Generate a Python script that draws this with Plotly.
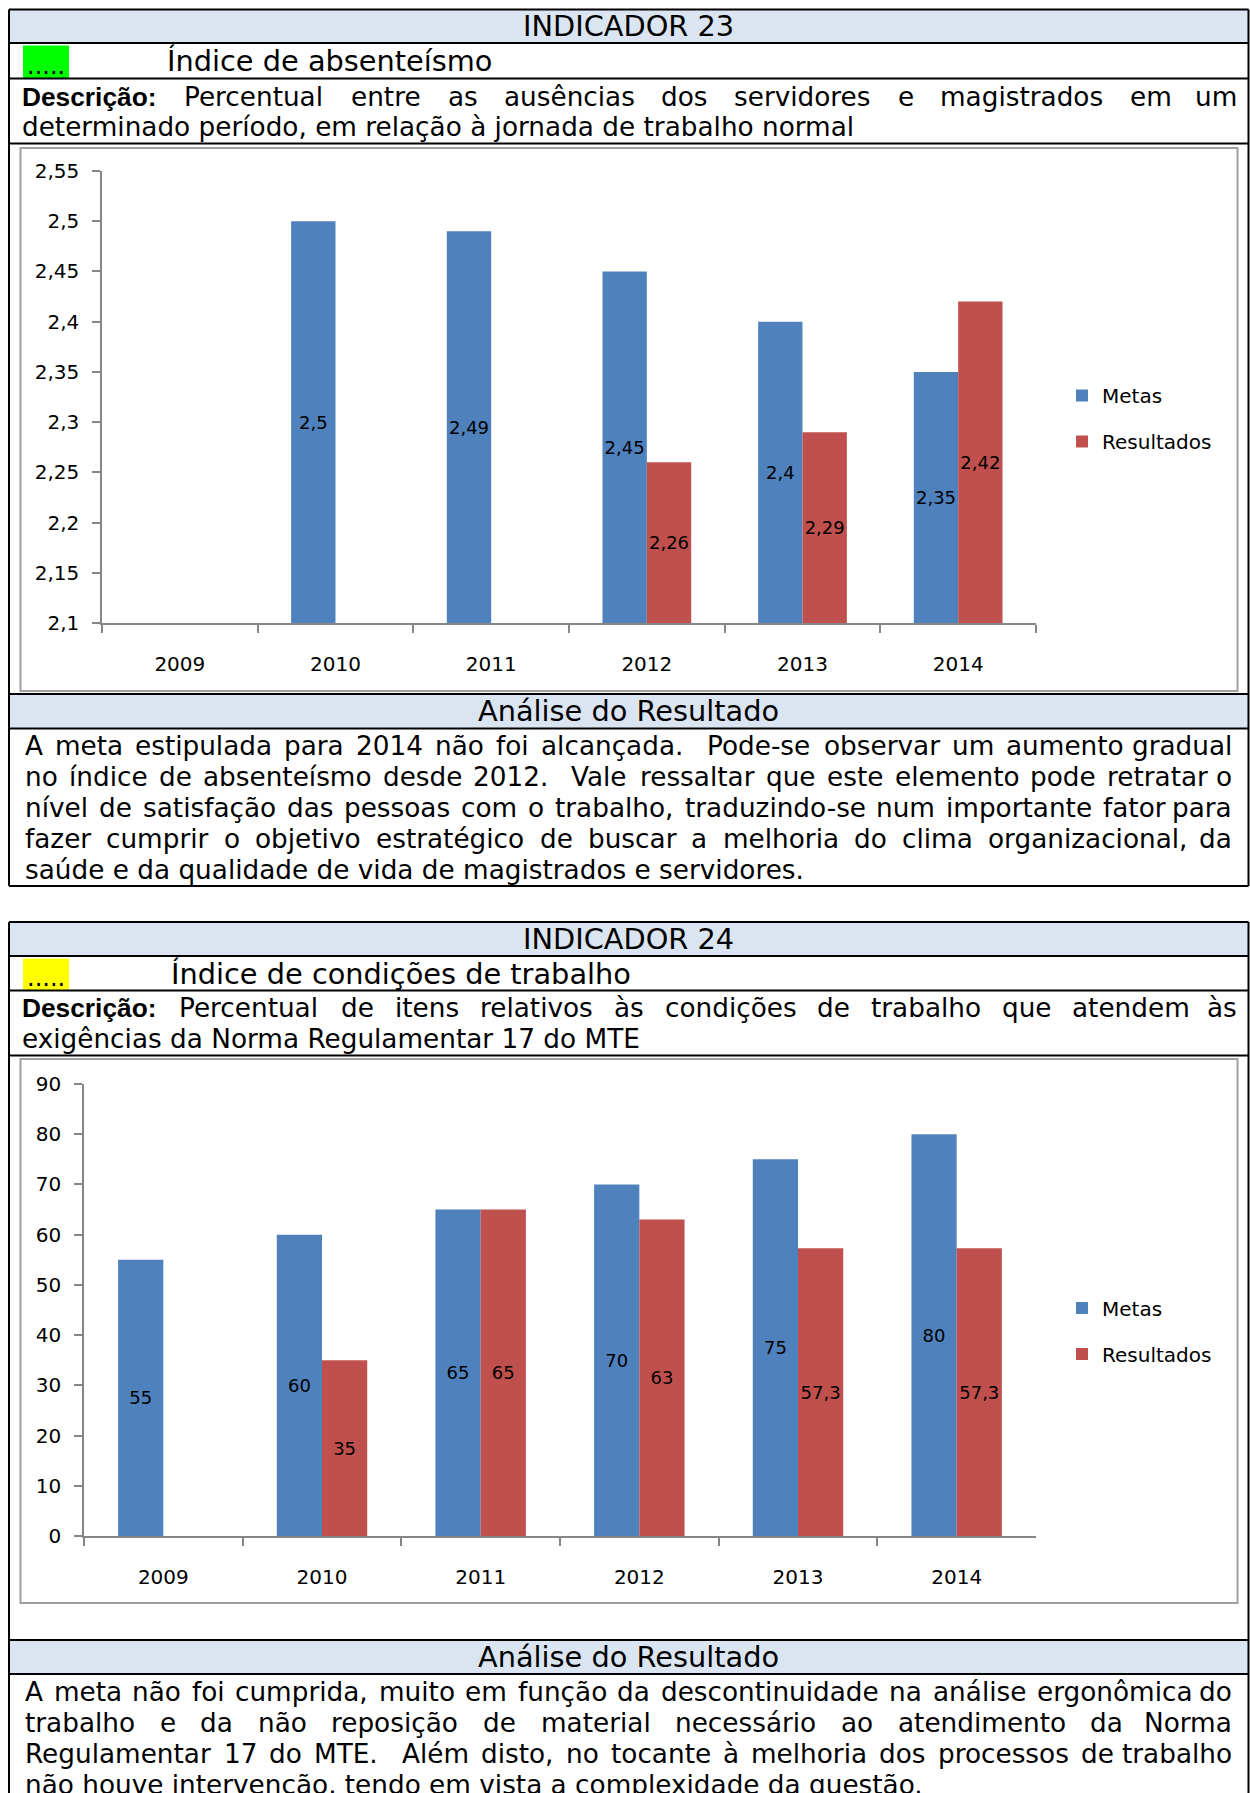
import unicodedata
import plotly.graph_objects as go

W, H = 1250, 1793

# ---------------- data ----------------
years = ["2009", "2010", "2011", "2012", "2013", "2014"]

abs_metas = [None, 2.5, 2.49, 2.45, 2.4, 2.35]
abs_result = [None, None, None, 2.26, 2.29, 2.42]
abs_base = 2.1
abs_tickvals = [2.1, 2.15, 2.2, 2.25, 2.3, 2.35, 2.4, 2.45, 2.5, 2.55]
abs_ticktext = ["2,1", "2,15", "2,2", "2,25", "2,3", "2,35", "2,4", "2,45", "2,5", "2,55"]

cond_metas = [55, 60, 65, 70, 75, 80]
cond_result = [None, 35, 65, 63, 57.3, 57.3]
cond_tickvals = [0, 10, 20, 30, 40, 50, 60, 70, 80, 90]
cond_ticktext = ["0", "10", "20", "30", "40", "50", "60", "70", "80", "90"]

series_names = ["Metas", "Resultados"]
series_colors = ["#4F81BD", "#C0504D"]

# ---------------- text ----------------
t1_header = "INDICADOR 23"
t1_title = "Índice de absenteísmo"
t1_desc = ["Percentual entre as ausências dos servidores e magistrados em um",
           "determinado período, em relação à jornada de trabalho normal"]
t1_anal = ["A meta estipulada para 2014 não foi alcançada.  Pode-se observar um aumento gradual",
           "no índice de absenteísmo desde 2012.  Vale ressaltar que este elemento pode retratar o",
           "nível de satisfação das pessoas com o trabalho, traduzindo-se num importante fator para",
           "fazer cumprir o objetivo estratégico de buscar a melhoria do clima organizacional, da",
           "saúde e da qualidade de vida de magistrados e servidores."]

t2_header = "INDICADOR 24"
t2_title = "Índice de condições de trabalho"
t2_desc = ["Percentual de itens relativos às condições de trabalho que atendem às",
           "exigências da Norma Regulamentar 17 do MTE"]
t2_anal = ["A meta não foi cumprida, muito em função da descontinuidade na análise ergonômica do",
           "trabalho e da não reposição de material necessário ao atendimento da Norma",
           "Regulamentar 17 do MTE.  Além disto, no tocante à melhoria dos processos de trabalho",
           "não houve intervenção, tendo em vista a complexidade da questão."]

FONT = "DejaVu Sans"
HEAD_FS = 28.8
BODY_FS = 26.3

# DejaVu Sans advance widths (units / 2048) for justification
DV = {' ': 651, ',': 651, '.': 651, ':': 690, '-': 739}
for d in "0123456789":
    DV[d] = 1303
DV.update(dict(zip("ABCDEFGHIJKLMNOPQRSTUVWXYZ",
                   [1401, 1405, 1430, 1577, 1294, 1178, 1587, 1540, 604, 604, 1343, 1141, 1767,
                    1532, 1612, 1235, 1612, 1423, 1300, 1251, 1499, 1401, 2025, 1403, 1251, 1403])))
DV.update(dict(zip("abcdefghijklmnopqrstuvwxyz",
                   [1255, 1300, 1126, 1300, 1260, 721, 1300, 1298, 569, 569, 1186, 569, 1995,
                    1298, 1253, 1300, 1300, 842, 1067, 803, 1298, 1212, 1675, 1212, 1212, 1075])))


def tw(s, fs):
    tot = 0
    for ch in s:
        base = unicodedata.normalize("NFD", ch)[0]
        tot += DV.get(base, 1250)
    return tot / 2048.0 * fs


def X(px):
    return px / W


def Y(py):
    return 1 - py / H


def fmt(v):
    if v is None:
        return ""
    return ("%g" % v).replace(".", ",")


fig = go.Figure()

# ---------------- chart 1 ----------------
for name, col, vals, grp in [(series_names[0], series_colors[0], abs_metas, "a1"),
                             (series_names[1], series_colors[1], abs_result, "a2")]:
    fig.add_trace(go.Bar(
        x=years, y=[None if v is None else v - abs_base for v in vals], base=abs_base,
        text=[fmt(v) for v in vals], textposition="inside", insidetextanchor="middle",
        textangle=0, constraintext="none", cliponaxis=False,
        textfont=dict(family=FONT, size=18, color="black"),
        marker=dict(color=col, line=dict(width=0)), name=name,
        legend="legend", legendgroup=grp, xaxis="x", yaxis="y", hoverinfo="skip"))

# ---------------- chart 2 ----------------
for name, col, vals, grp in [(series_names[0], series_colors[0], cond_metas, "c1"),
                             (series_names[1], series_colors[1], cond_result, "c2")]:
    fig.add_trace(go.Bar(
        x=years, y=vals,
        text=[fmt(v) for v in vals], textposition="inside", insidetextanchor="middle",
        textangle=0, constraintext="none", cliponaxis=False,
        textfont=dict(family=FONT, size=18, color="black"),
        marker=dict(color=col, line=dict(width=0)), name=name,
        legend="legend2", legendgroup=grp, xaxis="x2", yaxis="y2", hoverinfo="skip"))

AX = "#868686"
xcommon = dict(type="category", showline=True, linecolor=AX, linewidth=1.5, ticks="outside",
               tickson="boundaries", ticklen=8, tickcolor=AX, tickwidth=1.5,
               tickfont=dict(family=FONT, size=20, color="black"), showgrid=False,
               zeroline=False, ticklabelstandoff=22, fixedrange=True, automargin=False)
ycommon = dict(showline=True, linecolor=AX, linewidth=1.5, ticks="outside", ticklen=8,
               tickcolor=AX, tickwidth=1.5, tickfont=dict(family=FONT, size=20, color="black"),
               showgrid=False, zeroline=False, ticklabelstandoff=9, fixedrange=True,
               automargin=False)

legcommon = dict(xanchor="left", yanchor="middle", traceorder="grouped", tracegroupgap=17,
                 font=dict(family=FONT, size=20, color="black"), bgcolor="rgba(0,0,0,0)",
                 borderwidth=0)

fig.update_layout(
    width=W, height=H, margin=dict(l=0, r=0, t=0, b=0, pad=0, autoexpand=False),
    paper_bgcolor="white", plot_bgcolor="white", separators=", ",
    barmode="group", bargap=0.43, bargroupgap=0, showlegend=True,
    xaxis=dict(domain=[X(102), X(1036)], anchor="y", **xcommon),
    yaxis=dict(domain=[Y(623), Y(171)], anchor="x", range=[2.1, 2.55],
               tickvals=abs_tickvals, ticktext=abs_ticktext, **ycommon),
    xaxis2=dict(domain=[X(84), X(1036)], anchor="y2", **xcommon),
    yaxis2=dict(domain=[Y(1536), Y(1084)], anchor="x2", range=[0, 90],
                tickvals=cond_tickvals, ticktext=cond_ticktext, **ycommon),
    legend=dict(x=X(1062), y=Y(418.5), **legcommon),
    legend2=dict(x=X(1062), y=Y(1331), **legcommon),
)

shapes = []
annots = []


def rect(x0, y0, x1, y1, fill=None, line=None, lw=0, layer="below"):
    d = dict(type="rect", xref="paper", yref="paper", x0=X(x0), x1=X(x1), y0=Y(y0), y1=Y(y1),
             layer=layer, line=dict(width=lw, color=line or "rgba(0,0,0,0)"))
    if fill:
        d["fillcolor"] = fill
    shapes.append(d)


def line(x0, y0, x1, y1, color="black", lw=2):
    shapes.append(dict(type="line", xref="paper", yref="paper", x0=X(x0), x1=X(x1),
                       y0=Y(y0), y1=Y(y1), line=dict(color=color, width=lw), layer="above"))


def ann(x, y, text, fs, anchor="left", family=FONT, weight="normal"):
    annots.append(dict(xref="paper", yref="paper", x=X(x), y=Y(y), text=text, showarrow=False,
                       xanchor=anchor, yanchor="middle",
                       font=dict(family=family, size=fs, color="black", weight=weight)))


def justify(textline, x0, x1, y, fs):
    tokens = textline.split(" ")
    words = [t for t in tokens if t]
    total = sum(tw(w, fs) for w in words)
    gap = (x1 - x0 - total) / (len(tokens) - 1)
    x = x0
    for i, t in enumerate(tokens):
        if t:
            if i == len(tokens) - 1:
                ann(x1, y, t, fs, anchor="right")
            else:
                ann(x, y, t, fs)
            x += tw(t, fs)
        x += gap


BL, BR = 9, 1248.5
HEAD_FILL = "#DBE5F1"
FRAME = "#A0A0A0"


def section(top, hb, r2b, r3b, frame_top, frame_bot, an_top, an_bot, bottom,
            header, title, title_x, box_color, desc, desc_x0, desc_ys, anal, anal_ys,
            just_lines):
    rect(BL, top, BR, hb, fill=HEAD_FILL)
    rect(BL, an_top, BR, an_bot, fill=HEAD_FILL)
    rect(23, hb + 2.5, 69, r2b, fill=box_color)
    rect(20.5, frame_top, 1237.5, frame_bot, line=FRAME, lw=2, layer="below")
    for yy in [top, hb, r2b, r3b, an_top, an_bot] + ([bottom] if bottom else []):
        line(BL, yy, BR, yy)
    yb = bottom if bottom else H + 5
    line(BL, top, BL, yb)
    line(BR, top, BR, yb)
    ann(628.5, (top + hb) / 2, header, HEAD_FS, anchor="center")
    ann(25, r2b - 12.5, ".....", 24)
    ann(title_x, (hb + r2b) / 2 + 0.5, title, HEAD_FS)
    ann(19.5, desc_ys[0], "Descrição:", BODY_FS, family="Liberation Sans", weight="bold")
    justify(desc[0], desc_x0, 1238.5, desc_ys[0], BODY_FS)
    ann(19.5, desc_ys[1], desc[1], BODY_FS)
    ann(628.5, (an_top + an_bot) / 2, "Análise do Resultado", HEAD_FS, anchor="center")
    for i, (t, yy) in enumerate(zip(anal, anal_ys)):
        if i in just_lines:
            justify(t, 23, 1234, yy, BODY_FS)
        else:
            ann(23, yy, t, BODY_FS)


section(9.5, 43, 78.5, 143.5, 148, 691, 694, 728.5, 886,
        t1_header, t1_title, 165, "#00FF00", t1_desc, 182, [96.5, 126.5],
        t1_anal, [746, 777, 808, 839, 870], [0, 1, 2, 3])
section(922, 956, 990.5, 1055.5, 1059, 1603, 1640, 1674, None,
        t2_header, t2_title, 168.5, "#FFFF00", t2_desc, 177.5, [1008, 1039],
        t2_anal, [1692, 1723, 1754, 1784.5], [0, 1, 2])

fig.update_layout(shapes=shapes, annotations=annots)

fig.write_html("out.html", config={"displayModeBar": False},
               post_script="document.body.style.margin='0px';document.body.style.overflow='hidden';")
